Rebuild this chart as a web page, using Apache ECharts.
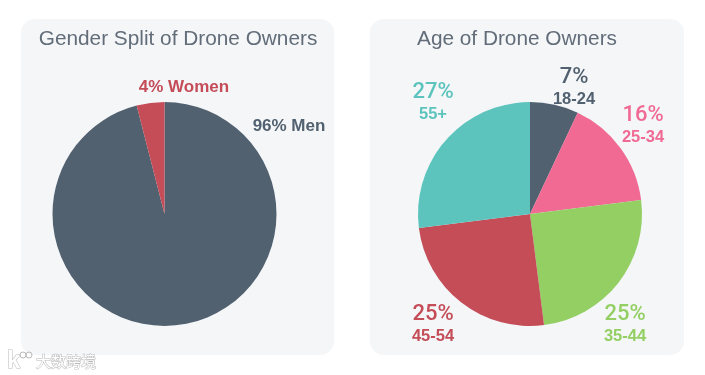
<!DOCTYPE html>
<html>
<head>
<meta charset="utf-8">
<style>
  html, body { margin: 0; padding: 0; background: #fff; }
  #chart { width: 705px; height: 375px; }
</style>
<script src="https://cdn.jsdelivr.net/npm/echarts@6/dist/echarts.min.js"></script>
</head>
<body>
<div id="chart"></div>
<script>
// data
var genderNames = ['Men', 'Women'];
var genderValues = [96, 4];
var genderColors = ['#526170', '#c44d58'];

var ageNames = ['18-24', '25-34', '35-44', '45-54', '55+'];
var ageValues = [7, 16, 25, 25, 27];
var ageColors = ['#526170', '#f06a94', '#93cf63', '#c44d58', '#5cc4bd'];

var FONT = '"Liberation Sans", Arial, sans-serif';
var PCT_FONT = 'Roboto, "Liberation Sans", sans-serif';

// label anchors, by slice
var genderLabelPos = [[289, 126], [184, 87]];
var ageLabelPos = [[574, 87], [643, 125], [625, 324], [433, 324], [433, 102]];

function toData(names, values, colors) {
  return names.map(function (n, i) {
    return { name: n, value: values[i], itemStyle: { color: colors[i] } };
  });
}

function ageData() {
  return toData(ageNames, ageValues, ageColors).map(function (d, i) {
    d.label = {
      overflow: 'none',
      formatter: '{p|' + d.value + '%}\n{n|' + d.name + '}',
      rich: {
        p: { fontSize: 22, fontFamily: PCT_FONT, fontWeight: 500, color: ageColors[i], height: 24, lineHeight: 24, align: 'center' },
        n: { fontSize: 16.5, fontFamily: FONT, fontWeight: 'bold', color: ageColors[i], height: 20, lineHeight: 20, align: 'center' }
      }
    };
    return d;
  });
}

function genderData() {
  return toData(genderNames, genderValues, genderColors).map(function (d, i) {
    d.label = {
      overflow: 'none',
      formatter: d.value + '% ' + d.name,
      fontSize: 17,
      fontFamily: FONT,
      fontWeight: 'bold',
      color: genderColors[i]
    };
    return d;
  });
}

function panel(x, w) {
  return {
    type: 'rect', z: -1, silent: true,
    shape: { x: x, y: 19, width: w, height: 336, r: 14 },
    style: { fill: '#f4f6f8' }
  };
}

var myChart = echarts.init(document.getElementById('chart'), null, { renderer: 'canvas' });

var option = {
  animation: false,
  backgroundColor: '#fff',
  title: [
    {
      text: 'Gender Split of Drone Owners',
      left: 173, top: 24, textAlign: 'center',
      textStyle: { fontFamily: FONT, fontSize: 20.8, fontWeight: 'normal', color: '#626d79' }
    },
    {
      text: 'Age of Drone Owners',
      left: 512, top: 24, textAlign: 'center',
      textStyle: { fontFamily: FONT, fontSize: 20.8, fontWeight: 'normal', color: '#626d79' }
    }
  ],
  graphic: [
    panel(21, 313),
    panel(370, 314),
    // watermark
    {
      type: 'text', z: 10, silent: true, x: 36, y: 354,
      style: { text: '大数跨境', font: '15px "Noto Sans CJK SC"', fill: '#ffffff', stroke: '#b9b9b9', lineWidth: 1 }
    },
    {
      type: 'text', z: 10, silent: true, x: 7, y: 349,
      style: { text: 'k', font: 'bold 24px "Liberation Sans"', fill: '#ffffff', stroke: '#b9b9b9', lineWidth: 1 }
    },
    { type: 'circle', z: 10, silent: true, shape: { cx: 23, cy: 355, r: 3 }, style: { fill: 'none', stroke: '#b9b9b9', lineWidth: 1 } },
    { type: 'circle', z: 10, silent: true, shape: { cx: 29, cy: 355, r: 3 }, style: { fill: 'none', stroke: '#b9b9b9', lineWidth: 1 } }
  ],
  series: [
    {
      type: 'pie',
      center: [164.5, 214],
      radius: [0, 112],
      startAngle: 90,
      clockwise: true,
      silent: true,
      data: genderData(),
      labelLine: { show: false },
      labelLayout: function (p) {
        var pos = genderLabelPos[p.dataIndex];
        return { x: pos[0], y: pos[1], align: 'center', verticalAlign: 'middle' };
      }
    },
    {
      type: 'pie',
      center: [530, 214],
      radius: [0, 112],
      startAngle: 90,
      clockwise: true,
      silent: true,
      data: ageData(),
      labelLine: { show: false },
      labelLayout: function (p) {
        var pos = ageLabelPos[p.dataIndex];
        return { x: pos[0], y: pos[1], align: 'center', verticalAlign: 'middle' };
      }
    }
  ]
};

myChart.setOption(option);
</script>
</body>
</html>
